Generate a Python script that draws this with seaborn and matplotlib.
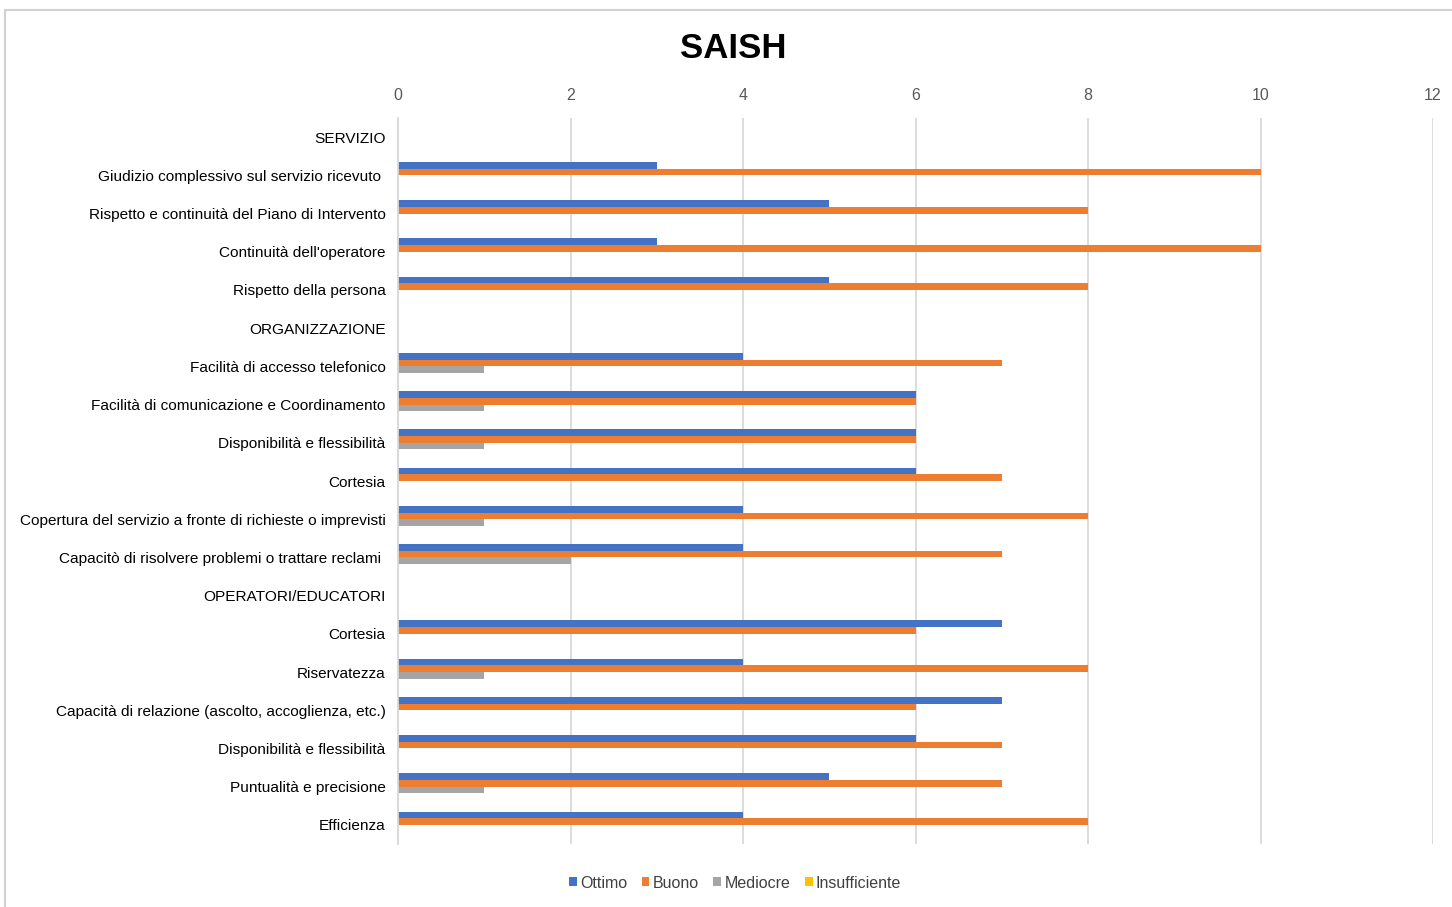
import matplotlib
matplotlib.use("Agg")
import matplotlib.pyplot as plt
from matplotlib.patches import Rectangle
import numpy as np
import pandas as pd
import seaborn as sns

# Survey categories (section headers carry no values)
categories = [
    "SERVIZIO",
    "Giudizio complessivo sul servizio ricevuto ",
    "Rispetto e continuità del Piano di Intervento",
    "Continuità dell'operatore",
    "Rispetto della persona",
    "ORGANIZZAZIONE",
    "Facilità di accesso telefonico",
    "Facilità di comunicazione e Coordinamento",
    "Disponibilità e flessibilità",
    "Cortesia",
    "Copertura del servizio a fronte di richieste o imprevisti",
    "Capacitò di risolvere problemi o trattare reclami ",
    "OPERATORI/EDUCATORI",
    "Cortesia",
    "Riservatezza",
    "Capacità di relazione (ascolto, accoglienza, etc.)",
    "Disponibilità e flessibilità",
    "Puntualità e precisione",
    "Efficienza",
]

ottimo = [np.nan, 3, 5, 3, 5, np.nan, 4, 6, 6, 6, 4, 4, np.nan, 7, 4, 7, 6, 5, 4]
buono = [np.nan, 10, 8, 10, 8, np.nan, 7, 6, 6, 7, 8, 7, np.nan, 6, 8, 6, 7, 7, 8]
mediocre = [np.nan, 0, 0, 0, 0, np.nan, 1, 1, 1, 0, 1, 2, np.nan, 0, 1, 0, 0, 1, 0]
insufficiente = [np.nan, 0, 0, 0, 0, np.nan, 0, 0, 0, 0, 0, 0, np.nan, 0, 0, 0, 0, 0, 0]

series_names = ["Ottimo", "Buono", "Mediocre", "Insufficiente"]
series_colors = ["#4472C4", "#ED7D31", "#A5A5A5", "#FFC000"]
x_ticks = [0, 2, 4, 6, 8, 10, 12]

rows = []
for i, cat in enumerate(categories):
    for name, vals in zip(series_names, [ottimo, buono, mediocre, insufficiente]):
        rows.append({"row": i, "serie": name, "valore": vals[i]})
df = pd.DataFrame(rows)

sns.set_theme(style="white")
plt.rcParams["font.family"] = ["Liberation Sans", "DejaVu Sans"]

fig = plt.figure(figsize=(14.52, 9.07), dpi=100)
fig.patch.set_facecolor("white")
# chart frame
fig.patches.append(Rectangle((5 / 1452, -0.05), 1.2, 1 - 10 / 907 + 0.05,
                             transform=fig.transFigure, fill=False,
                             edgecolor="#D0D0D0", linewidth=1.5, zorder=0))

ax = fig.add_axes([398 / 1452, 1 - 844 / 907, (1433 - 398) / 1452, (844 - 118) / 907])

sns.barplot(data=df, x="valore", y="row", hue="serie", hue_order=series_names,
            palette=series_colors, orient="h", width=0.7, ax=ax,
            errorbar=None, saturation=1, legend=True, linewidth=0)

ax.set_xlim(0, 12)
ax.set_ylim(len(categories) - 0.5, -0.5)
ax.set_xticks(x_ticks)
ax.set_xticklabels([str(t) for t in x_ticks], color="#595959", fontsize=11.5)
ax.xaxis.tick_top()
ax.tick_params(axis="x", length=0, pad=11)
ax.set_yticks(range(len(categories)))
ax.set_yticklabels(categories, fontsize=11.1, color="#000000")
ax.tick_params(axis="y", length=0, pad=9)
ax.set_xlabel("")
ax.set_ylabel("")
ax.grid(axis="x", color="#D9D9D9", linewidth=1.3)
ax.set_axisbelow(True)
for side in ["top", "right", "bottom"]:
    ax.spines[side].set_visible(False)
ax.spines["left"].set_color("#D9D9D9")
ax.spines["left"].set_linewidth(1.3)

fig.text(733 / 1452, 1 - 48 / 907, "SAISH", ha="center", va="center",
         fontsize=25, fontweight="bold", color="#000000")

handles, labels = ax.get_legend_handles_labels()
ax.legend_.remove()
fig.legend(handles, labels, loc="center", bbox_to_anchor=(735 / 1452, 1 - 883 / 907),
           ncol=4, frameon=False, fontsize=11.5, handlelength=0.5, handleheight=0.5,
           handletextpad=0.2, columnspacing=0.9, labelcolor="#404040")

fig.savefig("out.png", dpi=100)
